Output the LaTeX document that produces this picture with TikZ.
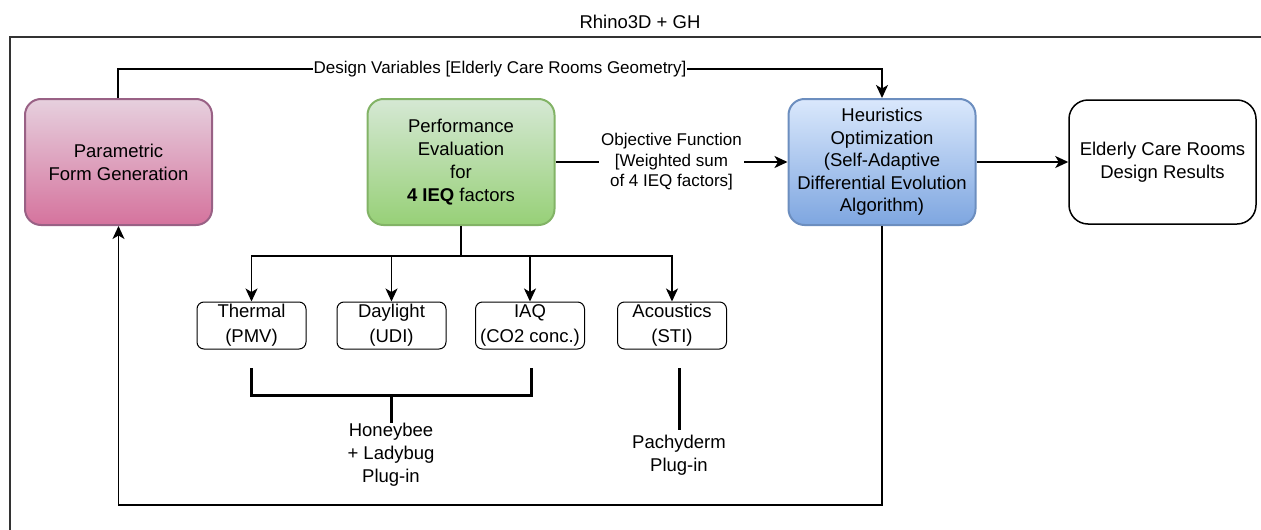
\documentclass[tikz,border=0pt]{standalone}
\usepackage{fontspec}
\setmainfont{Liberation Sans}
\usetikzlibrary{arrows.meta}
\definecolor{pinkT}{HTML}{E6D0DE}
\definecolor{pinkB}{HTML}{D5739D}
\definecolor{pinkD}{HTML}{996185}
\definecolor{greenT}{HTML}{D5E8D4}
\definecolor{greenB}{HTML}{97D077}
\definecolor{greenD}{HTML}{82B366}
\definecolor{blueT}{HTML}{DAE8FC}
\definecolor{blueB}{HTML}{7EA6E0}
\definecolor{blueD}{HTML}{6C8EBF}
\definecolor{frameC}{HTML}{333333}
\begin{document}
\begin{tikzpicture}[x=1pt,y=-1pt,
  font=\fontsize{18.5}{23}\selectfont,
  bigbox/.style={rounded corners=16pt, minimum width=187pt, minimum height=126pt,
    align=center, line width=2pt, inner sep=0pt},
  smallbox/.style={draw, rounded corners=7pt, minimum width=109pt, minimum height=47pt,
    align=center, line width=1pt, inner sep=0pt, font=\fontsize{18.5}{25}\selectfont},
  conn/.style={line width=1.5pt, -{Stealth[length=13pt,width=12pt,inset=3.5pt]}},
  plain/.style={line width=1.5pt},
  bracket/.style={line width=3pt},
  lbl/.style={fill=white, inner sep=1pt, align=center, font=\fontsize{17}{20.5}\selectfont}
]
\useasboundingbox (0,0) rectangle (1261,530);
% frame
\coordinate (fbl) at (10,530);
\coordinate (ftl) at (10,37);
\coordinate (ftr) at (1261,37);
\draw[line width=1.5pt, frameC] (fbl) -- (ftl) -- (ftr);
\node (title) at (640,22) {Rhino3D + GH};

% main boxes
\node[bigbox, draw=pinkD, top color=pinkT, bottom color=pinkB] (param) at (118.5,162)
  {Parametric\\Form Generation};
\node[bigbox, draw=greenD, top color=greenT, bottom color=greenB] (perf) at (461,162)
  {Performance\\Evaluation\\for\\\textbf{4 IEQ} factors};
\node[bigbox, draw=blueD, top color=blueT, bottom color=blueB, font=\fontsize{18.5}{22.5}\selectfont] (heur) at (882,162)
  {Heuristics\\Optimization\\(Self-Adaptive\\Differential Evolution\\Algorithm)};
\node[bigbox, draw, line width=1.5pt, rounded corners=19pt, minimum height=124pt] (res) at (1162.5,162)
  {Elderly Care Rooms\\Design Results};

% small boxes
\node[smallbox] (thermal) at (251.5,325.5) {Thermal\\(PMV)};
\node[smallbox] (daylight) at (391.5,325.5) {Daylight\\(UDI)};
\node[smallbox] (iaq) at (530,325.5) {IAQ\\(CO2 conc.)};
\node[smallbox] (acou) at (672,325.5) {Acoustics\\(STI)};

% design variables connector
\coordinate (dvl) at (118,69);
\draw[conn] (param.north -| dvl) -- (dvl) -| (heur.north);
\node[lbl] (dvlabel) at (500,69) {Design Variables [Elderly Care Rooms Geometry]};

% objective function connector
\draw[conn] (perf.east) -- node[lbl, inner sep=2pt] (oflabel)
  {Objective Function\\{[}Weighted sum\\of 4 IEQ factors{]}} (heur.west);
\draw[conn] (heur.east) -- (res.west);

% feedback loop
\coordinate (fb) at (882,505);
\draw[conn] (heur.south) -- (fb) -| (param.south);

% distribution
\coordinate (split) at (461,256);
\draw[plain] (perf.south) -- (split);
\draw[conn] (split) -| (thermal.north);
\draw[conn] (split) -| (daylight.north);
\draw[conn] (split) -| (iaq.north);
\draw[conn] (split) -| (acou.north);

% plug-in brackets
\coordinate (b1) at (251,368);
\coordinate (b2) at (251,395);
\coordinate (b3) at (531,395);
\coordinate (b4) at (531,368);
\coordinate (bs1) at (391,395);
\coordinate (bs2) at (391,423);
\draw[bracket] (b1) -- (b2) -- (b3) -- (b4);
\draw[bracket] (bs1) -- (bs2);
\node[align=center] (honey) at (391,455) {Honeybee\\+ Ladybug\\Plug-in};

\coordinate (p1) at (679,368);
\coordinate (p2) at (679,430);
\draw[bracket] (p1) -- (p2);
\node[align=center] (pachy) at (679,455) {Pachyderm\\Plug-in};
\end{tikzpicture}
\end{document}
